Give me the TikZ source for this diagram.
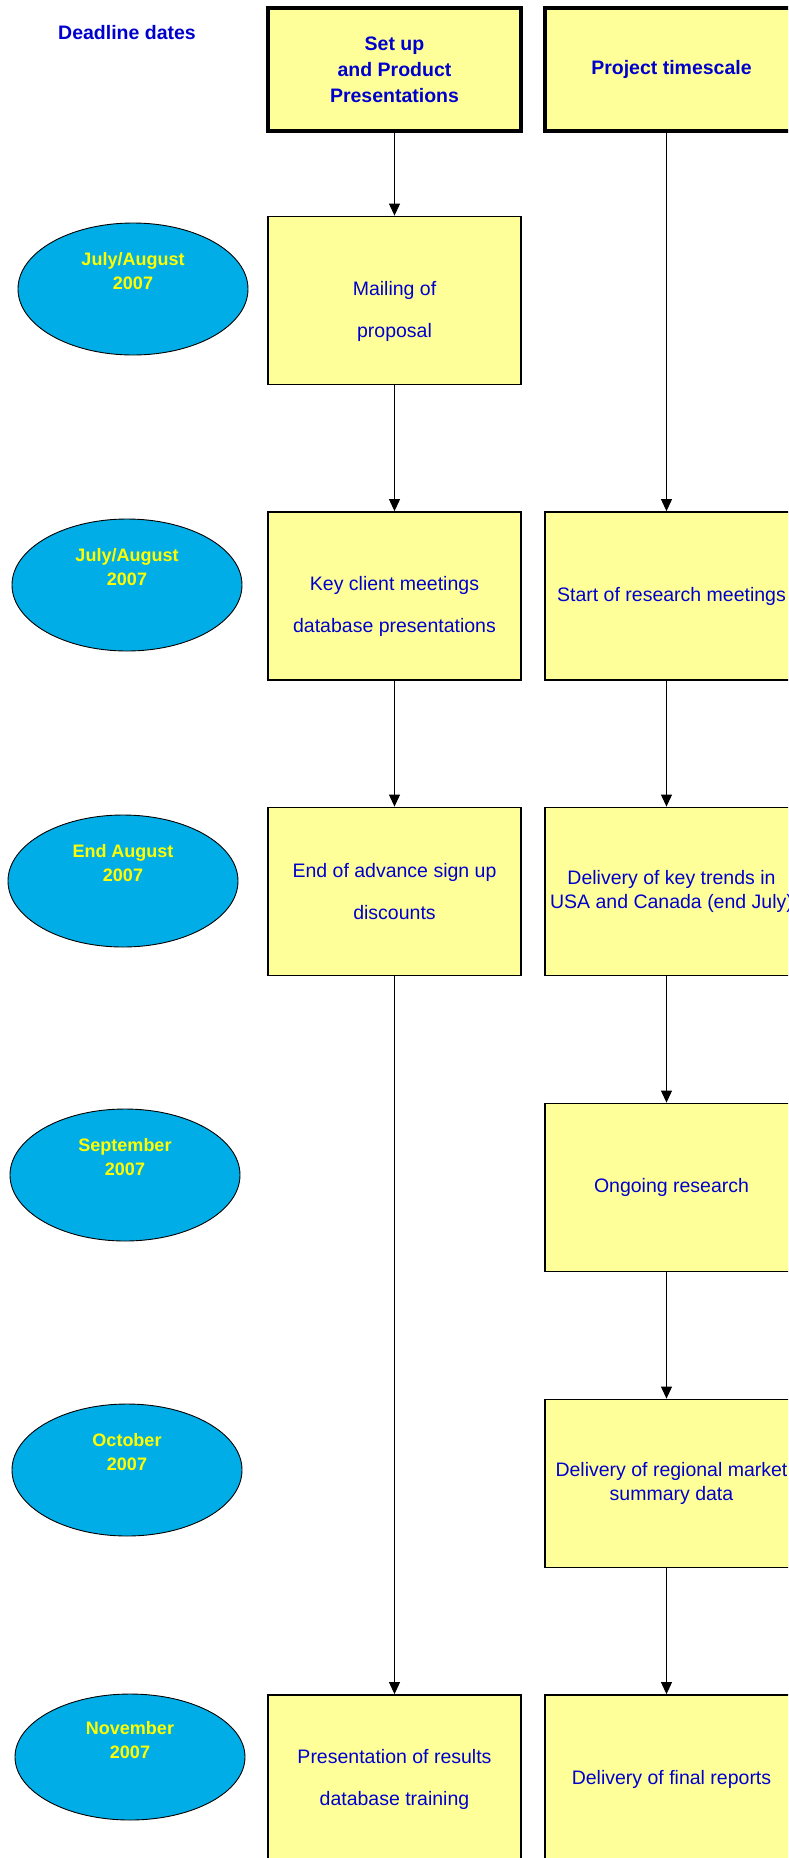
\documentclass[tikz,border=0pt]{standalone}
\usepackage{fontspec}
\setmainfont{Liberation Sans}
\usepackage{tikz}
\usetikzlibrary{arrows.meta}
\usetikzlibrary{shapes}
\usetikzlibrary{positioning}
\definecolor{boxyellow}{HTML}{FFFF99}
\definecolor{datecyan}{HTML}{00ADE6}
\definecolor{textblue}{HTML}{0000CC}
\definecolor{dateyellow}{HTML}{FFFF00}

\tikzset{
  headbox/.style={draw, line width=3.5pt, fill=boxyellow, text=textblue,
    minimum width=253pt, minimum height=123pt, inner sep=2pt, align=center,
    font=\bfseries\fontsize{19.5pt}{26pt}\selectfont},
  stepbox/.style={draw, line width=1.8pt, fill=boxyellow, text=textblue,
    minimum width=253pt, minimum height=168pt, inner sep=2pt, align=center,
    font=\fontsize{19.5pt}{24pt}\selectfont},
  dateoval/.style={ellipse, draw, line width=0.9pt, fill=datecyan,
    minimum width=230pt, minimum height=132pt, inner sep=0pt},
  datetext/.style={text=dateyellow, align=center, inner sep=0pt,
    font=\bfseries\fontsize{18pt}{24pt}\selectfont},
  flow/.style={line width=0.9pt, -{Triangle[length=12pt, width=11pt]}}
}

\begin{document}
\begin{tikzpicture}[x=1pt, y=-1pt]
  \clip (0, 0) rectangle (788, 1858);

  % headings
  \node[text=textblue, font=\bfseries\fontsize{19.5pt}{24pt}\selectfont] (deadline) at (127, 33) {Deadline dates};
  \node[headbox] (setup) at (394.5, 69.5) {Set up\\and Product\\Presentations};
  \node[headbox] (timescale) at (671.5, 69.5) {Project timescale};

  % deadline dates
  \node[dateoval] (date1) at (133, 289) {};
  \node[datetext] (date1txt) at ([yshift=18pt]date1.center) {July/August\\2007};
  \node[dateoval] (date2) at (127, 585) {};
  \node[datetext] (date2txt) at ([yshift=18pt]date2.center) {July/August\\2007};
  \node[dateoval] (date3) at (123, 881) {};
  \node[datetext] (date3txt) at ([yshift=18pt]date3.center) {End August\\2007};
  \node[dateoval] (date4) at (125, 1175) {};
  \node[datetext] (date4txt) at ([yshift=18pt]date4.center) {September\\2007};
  \node[dateoval] (date5) at (127, 1470) {};
  \node[datetext] (date5txt) at ([yshift=18pt]date5.center) {October\\2007};
  \node[dateoval, minimum height=126pt] (date6) at (130, 1757) {};
  \node[datetext] (date6txt) at ([yshift=17pt]date6.center) {November\\2007};

  % set up column
  \node[stepbox] (mailing) at (394.5, 300.5) {\rule{0pt}{36pt}Mailing of\\[18pt]proposal};
  \node[stepbox] (meetings) at (394.5, 596) {\rule{0pt}{36pt}Key client meetings\\[18pt]database presentations};
  \node[stepbox] (discounts) at (394.5, 891.5) {End of advance sign up\\[18pt]discounts};
  \node[stepbox] (results) at (394.5, 1779) {Presentation of results\\[18pt]database training};

  % timescale column
  \node[stepbox] (research) at (671.5, 596) {Start of research meetings};
  \node[stepbox] (trends) at (671.5, 891.5) {Delivery of key trends in\\USA and Canada (end July)};
  \node[stepbox] (ongoing) at (671.5, 1187.5) {Ongoing research};
  \node[stepbox] (regional) at (671.5, 1483.5) {Delivery of regional market\\summary data};
  \node[stepbox] (reports) at (671.5, 1779) {Delivery of final reports};

  \draw[flow] (setup.south) -- (mailing.north);
  \draw[flow] (mailing.south) -- (meetings.north);
  \draw[flow] (meetings.south) -- (discounts.north);
  \draw[flow] (discounts.south) -- (results.north);
  % timescale arrows sit a little left of the box middle
  \draw[flow] ([xshift=-5pt]timescale.south) -- ([xshift=-5pt]research.north);
  \draw[flow] ([xshift=-5pt]research.south) -- ([xshift=-5pt]trends.north);
  \draw[flow] ([xshift=-5pt]trends.south) -- ([xshift=-5pt]ongoing.north);
  \draw[flow] ([xshift=-5pt]ongoing.south) -- ([xshift=-5pt]regional.north);
  \draw[flow] ([xshift=-5pt]regional.south) -- ([xshift=-5pt]reports.north);
\end{tikzpicture}
\end{document}
